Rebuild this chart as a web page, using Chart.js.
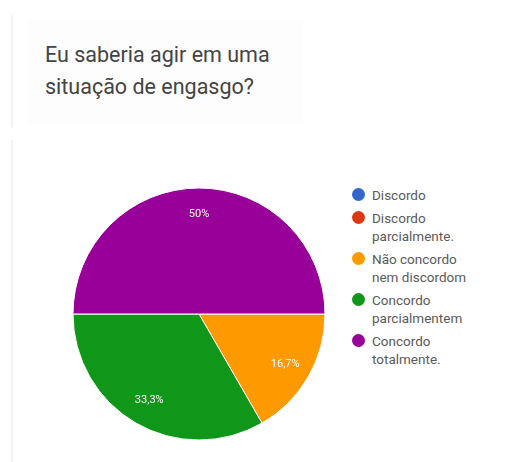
<!DOCTYPE html>
<html>
<head>
<meta charset="utf-8">
<script src="https://cdn.jsdelivr.net/npm/chart.js@4"></script>
<style>
    html, body { margin: 0; padding: 0; background: #fff; }
    body { width: 510px; height: 462px; position: relative; overflow: hidden; font-family: Roboto, "Noto Sans", sans-serif; }
    .rule { position: absolute; left: 11px; width: 2px; background: #f3f3f3; }
    .title-card { position: absolute; left: 28px; top: 20px; width: 275px; height: 105px; background: #fdfdfd; }
    .title { position: absolute; left: 45px; top: 39px; font-size: 21.5px; line-height: 32px; color: #444; margin: 0; font-weight: normal; }
    .chart-box { position: absolute; left: 69px; top: 184px; width: 260px; height: 260px; }
    #legend { position: absolute; left: 350px; top: 186px; list-style: none; margin: 0; padding: 0; font-size: 13.5px; color: #5a5a5a; }
    #legend li { position: relative; padding-left: 22px; line-height: 18px; margin-bottom: 5px; }
    #legend .dot { position: absolute; left: 2px; top: 2px; width: 13px; height: 13px; border-radius: 50%; }
</style>
</head>
<body>
<div class="rule" style="top:15px;height:112px"></div>
<div class="rule" style="top:140px;height:322px"></div>
<div class="title-card"></div>
<h1 class="title">Eu saberia agir em uma<br>situação de engasgo?</h1>
<div class="chart-box"><canvas id="pieChart" width="260" height="260"></canvas></div>
<ul id="legend"></ul>

<script>
// Responses (0 / 0 / 16,7% / 33,3% / 50%)
const labels = [
    ['Discordo'],
    ['Discordo', 'parcialmente.'],
    ['Não concordo', 'nem discordom'],
    ['Concordo', 'parcialmentem'],
    ['Concordo', 'totalmente.']
];
const counts = [0, 0, 1, 2, 3];
const colors = ['#3366cc', '#dc3912', '#ff9900', '#109618', '#990099'];

// percent labels inside the slices, pt-BR decimal comma
const sliceLabels = {
    id: 'sliceLabels',
    afterDatasetsDraw(chart) {
        const { ctx } = chart;
        const meta = chart.getDatasetMeta(0);
        const data = chart.data.datasets[0].data;
        const total = data.reduce((a, b) => a + b, 0);
        ctx.save();
        ctx.fillStyle = '#fff';
        ctx.font = '11px Roboto, sans-serif';
        ctx.textAlign = 'center';
        ctx.textBaseline = 'middle';
        meta.data.forEach((arc, i) => {
            if (!data[i]) return;
            const mid = (arc.startAngle + arc.endAngle) / 2;
            const r = arc.outerRadius * 0.79;
            const pct = Math.round(data[i] / total * 1000) / 10;
            const text = String(pct).replace('.', ',') + '%';
            ctx.fillText(text, arc.x + Math.cos(mid) * r, arc.y + Math.sin(mid) * r);
        });
        ctx.restore();
    }
};

new Chart(document.getElementById('pieChart').getContext('2d'), {
    type: 'pie',
    data: {
        labels: labels.map(l => l.join(' ')),
        datasets: [{
            data: counts,
            backgroundColor: colors,
            borderColor: '#fff',
            borderWidth: 1
        }]
    },
    options: {
        responsive: false,
        animation: false,
        rotation: 90,
        radius: 126,
        plugins: {
            legend: { display: false },
            tooltip: { enabled: false }
        }
    },
    plugins: [sliceLabels]
});

// legend on the right
const legendEl = document.getElementById('legend');
labels.forEach((lines, i) => {
    const li = document.createElement('li');
    li.innerHTML = `<span class="dot" style="background:${colors[i]}"></span>` + lines.join('<br>');
    legendEl.appendChild(li);
});
</script>
</body>
</html>
